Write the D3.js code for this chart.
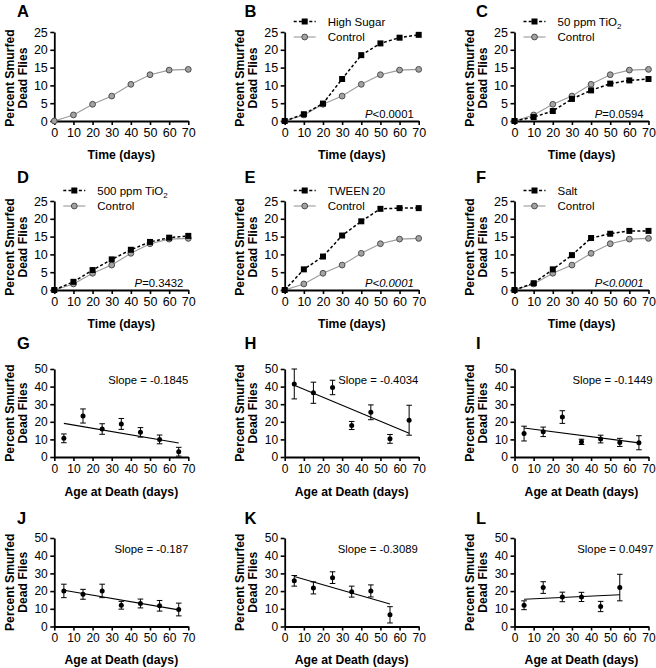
<!DOCTYPE html>
<html><head><meta charset="utf-8">
<script src="https://cdn.jsdelivr.net/npm/d3@7"></script>
<style>
body{margin:0;background:#fff}
svg{display:block}
text{font-family:"Liberation Sans",Arial,Helvetica,sans-serif;fill:#000}
</style>
</head><body>
<svg id="c" width="656" height="668"></svg>
<script>
// ---------- data: time course (panels A-F) ----------
const days = [0, 10, 20, 30, 40, 50, 60, 70];
const control   = [0, 1.7, 4.7, 7.0, 10.3, 13.0, 14.3, 14.5];
const highSugar = [0, 1.9, 4.9, 11.8, 18.5, 21.8, 23.4, 24.2];
const tio2_50   = [0, 1.1, 2.8, 6.2, 8.6, 10.5, 11.4, 11.8];
const tio2_500  = [0, 2.3, 5.6, 8.6, 11.3, 13.5, 14.7, 15.2];
const tween20   = [0, 5.8, 9.4, 15.3, 19.3, 22.8, 23.0, 23.0];
const salt      = [0, 1.9, 5.8, 9.8, 14.6, 15.8, 16.6, 16.6];
const timeTicks = [0, 10, 20, 30, 40, 50, 60, 70];
const pctTicksTop = [0, 5, 10, 15, 20, 25];

// ---------- data: age at death (panels G-L) ----------
const ages7 = [5, 15, 25, 35, 45, 55, 65];
const ages6 = [5, 15, 25, 35, 45, 55];
const gMean = [10.6, 23.3, 15.9, 18.8, 14.0, 10.0, 3.0];
const gErr  = [2.5, 4.0, 3.0, 3.1, 2.7, 2.5, 2.5];
const gFit  = [19.1, 8.0];
const hMean = [41.5, 36.5, 39.5, 17.9, 25.4, 10.3, 20.9];
const hErr  = [8.5, 6.0, 4.1, 2.3, 4.2, 2.5, 8.5];
const hFit  = [40.8, 13.5];
const iMean = [13.3, 14.3, 22.7, 8.6, 10.2, 8.3, 8.1];
const iErr  = [4.2, 2.7, 3.6, 1.5, 2.2, 2.3, 4.0];
const iFit  = [16.5, 8.0];
const jMean = [20.1, 18.2, 20.1, 12.0, 13.0, 11.7, 9.6];
const jErr  = [3.8, 2.8, 3.8, 2.2, 2.5, 3.0, 3.6];
const jFit  = [20.5, 9.4];
const kMean = [25.8, 21.8, 27.6, 19.7, 20.1, 6.6];
const kErr  = [3.0, 3.4, 3.3, 3.1, 3.4, 4.6];
const kFit  = [28.2, 12.7];
const lMean = [12.0, 22.0, 16.7, 16.7, 11.3, 22.0];
const lErr  = [2.5, 3.3, 2.7, 2.6, 2.9, 7.5];
const lFit  = [15.4, 17.9];
const ageTicks = [0, 10, 20, 30, 40, 50, 60, 70];
const pctTicksBottom = [0, 10, 20, 30, 40, 50];

// ---------- layout ----------
const svg = d3.select("#c");
const colX = [54.3, 284.7, 514.5];
const W = 134;
const rowTop = [32, 201, 369, 538];
const rowH = [89, 89, 88, 88.5];
const titleDy = [38, 38, 38.5, 37];
const letterX = [17, 244.5, 476];
const letterY = [16.5, 183, 348.5, 523.5];

function axes(g, x, y, xt, yt, fs) {
  const ax = g.append("g").attr("transform", `translate(0,${y.range()[0]})`)
    .call(d3.axisBottom(x).tickValues(xt).tickSize(4).tickPadding(3).tickSizeOuter(0));
  const ay = g.append("g")
    .call(d3.axisLeft(y).tickValues(yt).tickSize(4).tickPadding(2.5).tickSizeOuter(0));
  [ax, ay].forEach(a => {
    a.select(".domain").attr("stroke", "#000").attr("stroke-width", 1.8);
    a.selectAll(".tick line").attr("stroke", "#000").attr("stroke-width", 1.6);
    a.selectAll(".tick text").style("font-size", fs + "px").style("font-family", '"Liberation Sans",Arial,sans-serif').attr("fill", "#000");
  });
}

function yTitle(g, cy) {
  const t = g.append("g").attr("transform", `translate(0,${cy}) rotate(-90)`);
  t.append("text").attr("x", 0).attr("y", -40.5).attr("text-anchor", "middle")
    .style("font-size", "12.2px").style("font-weight", "bold").text("Percent Smurfed");
  t.append("text").attr("x", 0).attr("y", -27.5).attr("text-anchor", "middle")
    .style("font-size", "12.2px").style("font-weight", "bold").text("Dead Flies");
}

function letter(col, row, L) {
  svg.append("text").attr("x", letterX[col]).attr("y", letterY[row])
    .style("font-size", "16.5px").style("font-weight", "bold").text(L);
}

// time-course panels
const topPanels = [
  {L: "A", col: 0, row: 0, treat: null},
  {L: "B", col: 1, row: 0, treat: highSugar, name: ["High Sugar"], p: [["P", true], ["<0.0001", false]]},
  {L: "C", col: 2, row: 0, treat: tio2_50, name: ["50 ppm TiO", "2"], p: [["P", true], ["=0.0594", false]]},
  {L: "D", col: 0, row: 1, treat: tio2_500, name: ["500 ppm TiO", "2"], p: [["P", true], ["=0.3432", false]]},
  {L: "E", col: 1, row: 1, treat: tween20, name: ["TWEEN 20"], p: [["P<0.0001", true]]},
  {L: "F", col: 2, row: 1, treat: salt, name: ["Salt"], p: [["P<0.0001", true]]}
];

topPanels.forEach(pn => {
  const x0 = colX[pn.col], top = rowTop[pn.row], h = rowH[pn.row];
  const g = svg.append("g").attr("transform", `translate(${x0},${top})`);
  const x = d3.scaleLinear().domain([0, 70]).range([0, W]);
  const y = d3.scaleLinear().domain([0, 25]).range([h, 0]);
  letter(pn.col, pn.row, pn.L);
  const line = d3.line().x((d, i) => x(days[i])).y(d => y(d));
  g.append("path").datum(control).attr("d", line).attr("fill", "none")
    .attr("stroke", "#9a9a9a").attr("stroke-width", 1.1);
  if (pn.treat) {
    g.append("path").datum(pn.treat).attr("d", line).attr("fill", "none")
      .attr("stroke", "#000").attr("stroke-width", 1.5).attr("stroke-dasharray", "3,2.2");
  }
  axes(g, x, y, timeTicks, pctTicksTop, 12.5);
  g.selectAll("circle.ctl").data(control).enter().append("circle")
    .attr("cx", (d, i) => x(days[i])).attr("cy", d => y(d)).attr("r", 2.9)
    .attr("fill", "#a3a3a3").attr("stroke", "#4d4d4d").attr("stroke-width", 1);
  if (pn.treat) {
    g.selectAll("rect.tr").data(pn.treat).enter().append("rect")
      .attr("x", (d, i) => x(days[i]) - 3).attr("y", d => y(d) - 3)
      .attr("width", 6).attr("height", 6).attr("fill", "#000");
    const ly1 = -10.5, ly2 = 5;
    g.append("line").attr("x1", 9).attr("x2", 31).attr("y1", ly1).attr("y2", ly1)
      .attr("stroke", "#000").attr("stroke-width", 1.5).attr("stroke-dasharray", "3,2.2");
    g.append("rect").attr("x", 17).attr("y", ly1 - 3).attr("width", 6).attr("height", 6).attr("fill", "#000");
    const t1 = g.append("text").attr("x", 43).attr("y", ly1 + 4).style("font-size", "11.5px");
    t1.append("tspan").text(pn.name[0]);
    if (pn.name[1]) t1.append("tspan").attr("dy", 3).style("font-size", "8px").text(pn.name[1]);
    g.append("line").attr("x1", 9).attr("x2", 31).attr("y1", ly2).attr("y2", ly2)
      .attr("stroke", "#9a9a9a").attr("stroke-width", 1.1);
    g.append("circle").attr("cx", 20).attr("cy", ly2).attr("r", 2.9)
      .attr("fill", "#a3a3a3").attr("stroke", "#4d4d4d").attr("stroke-width", 1);
    g.append("text").attr("x", 43).attr("y", ly2 + 4).style("font-size", "11.5px").text("Control");
    const pt = g.append("text").attr("x", W - 5).attr("y", h - 3).attr("text-anchor", "end").style("font-size", "11.3px");
    pn.p.forEach(s => pt.append("tspan").style("font-style", s[1] ? "italic" : "normal").text(s[0]));
  }
  yTitle(g, h / 2 + 1.5);
  g.append("text").attr("x", W / 2).attr("y", h + titleDy[pn.row]).attr("text-anchor", "middle")
    .style("font-size", "12.2px").style("font-weight", "bold").text("Time (days)");
});

// age-at-death panels
const botPanels = [
  {L: "G", col: 0, row: 2, xs: ages7, m: gMean, e: gErr, fit: gFit, slope: "Slope = -0.1845", sx: 94},
  {L: "H", col: 1, row: 2, xs: ages7, m: hMean, e: hErr, fit: hFit, slope: "Slope = -0.4034", sx: 93.5},
  {L: "I", col: 2, row: 2, xs: ages7, m: iMean, e: iErr, fit: iFit, slope: "Slope = -0.1449", sx: 98},
  {L: "J", col: 0, row: 3, xs: ages7, m: jMean, e: jErr, fit: jFit, slope: "Slope = -0.187", sx: 97},
  {L: "K", col: 1, row: 3, xs: ages6, m: kMean, e: kErr, fit: kFit, slope: "Slope = -0.3089", sx: 93},
  {L: "L", col: 2, row: 3, xs: ages6, m: lMean, e: lErr, fit: lFit, slope: "Slope = 0.0497", sx: 101}
];

botPanels.forEach(pn => {
  const x0 = colX[pn.col], top = rowTop[pn.row], h = rowH[pn.row];
  const g = svg.append("g").attr("transform", `translate(${x0},${top})`);
  const x = d3.scaleLinear().domain([0, 70]).range([0, W]);
  const y = d3.scaleLinear().domain([0, 50]).range([h, 0]);
  letter(pn.col, pn.row, pn.L);
  axes(g, x, y, ageTicks, pctTicksBottom, 12);
  const xa = pn.xs[0], xb = pn.xs[pn.xs.length - 1];
  g.append("line").attr("x1", x(xa)).attr("x2", x(xb)).attr("y1", y(pn.fit[0])).attr("y2", y(pn.fit[1]))
    .attr("stroke", "#000").attr("stroke-width", 1.1);
  const eb = g.selectAll("g.eb").data(pn.m).enter().append("g");
  eb.append("line").attr("x1", (d, i) => x(pn.xs[i])).attr("x2", (d, i) => x(pn.xs[i]))
    .attr("y1", (d, i) => y(d - pn.e[i])).attr("y2", (d, i) => y(d + pn.e[i]))
    .attr("stroke", "#000").attr("stroke-width", 1);
  [-1, 1].forEach(sg => {
    eb.append("line").attr("x1", (d, i) => x(pn.xs[i]) - 2.8).attr("x2", (d, i) => x(pn.xs[i]) + 2.8)
      .attr("y1", (d, i) => y(d + sg * pn.e[i])).attr("y2", (d, i) => y(d + sg * pn.e[i]))
      .attr("stroke", "#000").attr("stroke-width", 1);
  });
  eb.append("circle").attr("cx", (d, i) => x(pn.xs[i])).attr("cy", d => y(d)).attr("r", 2.5).attr("fill", "#000");
  g.append("text").attr("x", pn.sx).attr("y", 14.5).attr("text-anchor", "middle")
    .style("font-size", "11.3px").text(pn.slope);
  yTitle(g, h / 2);
  g.append("text").attr("x", W / 2).attr("y", h + titleDy[pn.row]).attr("text-anchor", "middle")
    .style("font-size", "12.2px").style("font-weight", "bold").text("Age at Death (days)");
});
</script>
</body></html>
